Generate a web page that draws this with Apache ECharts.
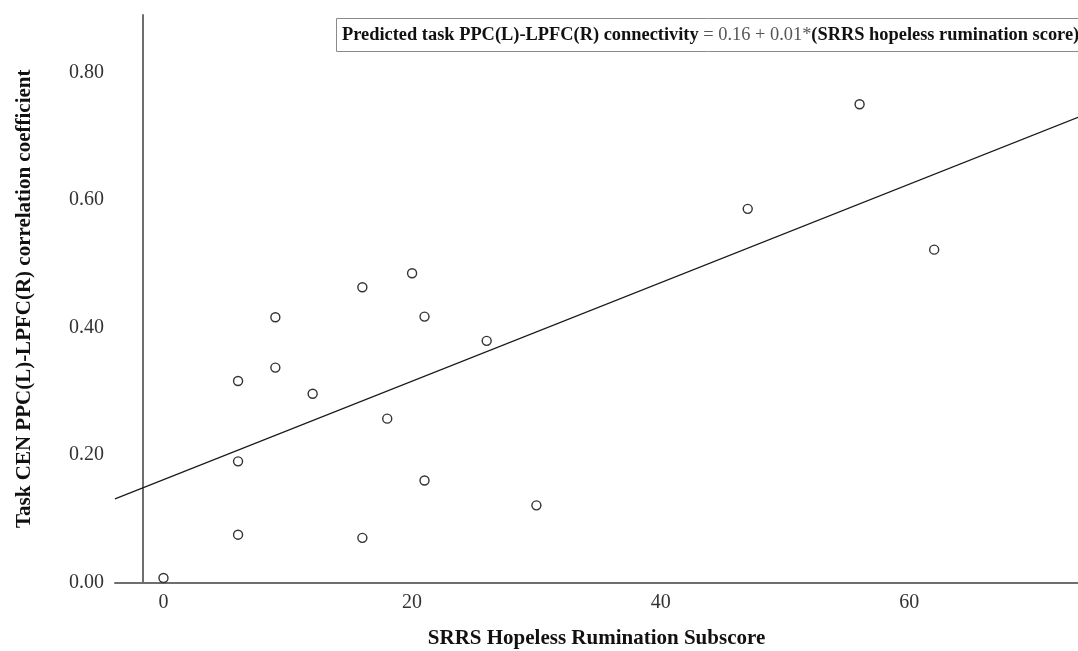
<!DOCTYPE html>
<html>
<head>
<meta charset="utf-8">
<script src="https://cdn.jsdelivr.net/npm/echarts@6/dist/echarts.min.js"></script>
<style>
  html, body { margin: 0; padding: 0; background: #fff; }
  #chart { width: 1078px; height: 651px; }
</style>
</head>
<body>
<div id="chart"></div>
<script>
// SRRS hopeless rumination subscore per participant
const rumination = [0, 6, 6, 6, 9, 9, 12, 16, 16, 18, 20, 21, 21, 26, 30, 47, 56, 62];
// Task CEN PPC(L)-LPFC(R) correlation coefficient per participant
const connectivity = [0.007, 0.075, 0.190, 0.316, 0.337, 0.416, 0.296, 0.463, 0.070, 0.257,
                      0.485, 0.417, 0.160, 0.379, 0.121, 0.586, 0.750, 0.522];
// Axis ranges and tick labels
const xRange = [-3.9, 73.57];
const yRange = [0, 0.89];
const xTicks = [0, 20, 40, 60];
const yTicks = [0, 0.2, 0.4, 0.6, 0.8];

// Ordinary least-squares fit of connectivity on rumination score
function fitLine(xs, ys) {
  const n = xs.length;
  const mx = xs.reduce((a, b) => a + b, 0) / n;
  const my = ys.reduce((a, b) => a + b, 0) / n;
  let sxy = 0, sxx = 0;
  for (let i = 0; i < n; i++) {
    sxy += (xs[i] - mx) * (ys[i] - my);
    sxx += (xs[i] - mx) * (xs[i] - mx);
  }
  const slope = sxy / sxx;
  return { slope, intercept: my - slope * mx };
}
const fit = fitLine(rumination, connectivity);
const fitPoints = xRange.map(x => [x, fit.intercept + fit.slope * x]);
const points = rumination.map((x, i) => [x, connectivity[i]]);

const serif = "'Liberation Serif', 'Times New Roman', Times, serif";

const chart = echarts.init(document.getElementById('chart'), null, { renderer: 'canvas' });
chart.setOption({
  animation: false,
  backgroundColor: '#ffffff',
  title: {
    left: 336,
    top: 18,
    padding: [8, 6, 8, 6],
    borderColor: '#8a8a8a',
    borderWidth: 1,
    backgroundColor: '#ffffff',
    text: '{b|Predicted task PPC(L)-LPFC(R) connectivity }{n|= ' + fit.intercept.toFixed(2) +
          ' + ' + fit.slope.toFixed(2) + '*}{b|(SRRS hopeless rumination score)}',
    textStyle: {
      rich: {
        b: { fontFamily: serif, fontSize: 18.4, fontWeight: 'bold', color: '#111' },
        n: { fontFamily: serif, fontSize: 18.4, fontWeight: 'normal', color: '#555' }
      }
    }
  },
  grid: {
    left: 115, right: 0, top: 15, bottom: 68.5,
    containLabel: false,
    outerBoundsMode: 'none'
  },
  xAxis: {
    type: 'value',
    min: xRange[0],
    max: xRange[1],
    name: 'SRRS Hopeless Rumination Subscore',
    nameLocation: 'middle',
    nameGap: 46,
    nameTextStyle: {
      fontFamily: serif, fontSize: 21, fontWeight: 'bold', color: '#111'
    },
    axisLine: { show: true, onZero: false, lineStyle: { color: '#6e6e6e', width: 2 } },
    axisTick: { show: false },
    splitLine: { show: false },
    axisLabel: {
      customValues: xTicks,
      margin: 10,
      fontFamily: serif, fontSize: 20, color: '#333',
      formatter: v => String(v)
    }
  },
  yAxis: {
    type: 'value',
    min: yRange[0],
    max: yRange[1],
    offset: -28,
    name: 'Task CEN PPC(L)-LPFC(R) correlation coefficient',
    nameLocation: 'middle',
    nameGap: 108,
    nameTextStyle: {
      fontFamily: serif, fontSize: 21, fontWeight: 'bold', color: '#111'
    },
    axisLine: { show: true, onZero: false, lineStyle: { color: '#6e6e6e', width: 2 } },
    axisTick: { show: false },
    splitLine: { show: false },
    axisLabel: {
      customValues: yTicks,
      margin: 39,
      fontFamily: serif, fontSize: 20, color: '#333',
      formatter: v => v.toFixed(2)
    }
  },
  series: [
    {
      name: 'Fit',
      type: 'line',
      data: fitPoints,
      symbol: 'none',
      silent: true,
      z: 2,
      lineStyle: { color: '#1a1a1a', width: 1.2 }
    },
    {
      name: 'Participants',
      type: 'scatter',
      data: points,
      symbol: 'circle',
      symbolSize: 9,
      z: 3,
      itemStyle: { color: '#ffffff', borderColor: '#333', borderWidth: 1.4, opacity: 1 }
    }
  ]
});
</script>
</body>
</html>
